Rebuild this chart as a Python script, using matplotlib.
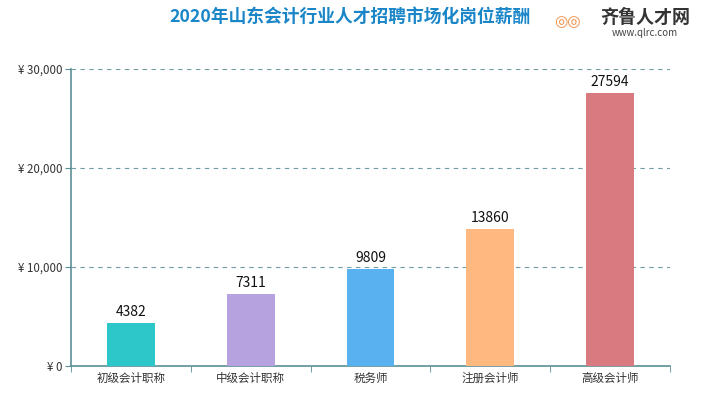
import matplotlib
matplotlib.use("Agg")
import matplotlib.pyplot as plt
from matplotlib.ticker import FuncFormatter

plt.rcParams['font.family'] = ['Noto Sans CJK SC', 'DejaVu Sans']

categories = ['初级会计职称', '中级会计职称', '税务师', '注册会计师', '高级会计师']
values = [4382, 7311, 9809, 13860, 27594]
colors = ['#2ec7c9', '#b6a2de', '#5ab1ef', '#ffb980', '#d87a80']
yticks = [0, 10000, 20000, 30000]
title = '2020年山东会计行业人才招聘市场化岗位薪酬'

fig = plt.figure(figsize=(7.2, 4.05), dpi=100)
ax = fig.add_axes([71/720, 1-366/405, (670-71)/720, (366-69)/405])

x = list(range(len(categories)))
ax.bar(x, values, width=0.4, color=colors, zorder=3)
for xi, v in zip(x, values):
    ax.text(xi, v + 350, str(v), ha='center', va='bottom', fontsize=10, color='#111111', zorder=4)

ax.set_xlim(-0.5, len(categories) - 0.5)
ax.set_ylim(0, 30000)
ax.set_yticks(yticks)
ax.yaxis.set_major_formatter(FuncFormatter(lambda v, p: '¥ ' + ('0' if v == 0 else f'{int(v):,}')))
ax.set_xticks(x)
ax.set_xticklabels(categories)
ax.set_xticks([i - 0.5 for i in range(len(categories) + 1)], minor=True)
ax.tick_params(axis='x', which='major', length=0, labelsize=8.3, colors='#333333', pad=4)
ax.tick_params(axis='x', which='minor', length=4, color='#5b8f95')
ax.tick_params(axis='y', labelsize=8.3, colors='#333333', length=4, color='#5b8f95', pad=2)

ax.grid(axis='y', linestyle=(0, (4, 4)), color='#6e9ea3', linewidth=0.8, zorder=0)
for s in ['top', 'right']:
    ax.spines[s].set_visible(False)
for s in ['left', 'bottom']:
    ax.spines[s].set_color('#5b8f95')
    ax.spines[s].set_linewidth(1.2)

fig.text(350/720, 1-17/405, title, ha='center', va='center', fontsize=12.8, fontweight='bold', color='#1a86c8')
fig.text(645/720, 1-17/405, '齐鲁人才网', ha='center', va='center', fontsize=13, fontweight='bold', color='#333333')
fig.text(645/720, 1-33/405, 'www.qlrc.com', ha='center', va='center', fontsize=7, color='#444444')
fig.text(567/720, 1-22/405, '◎◎', ha='center', va='center', fontsize=11, color='#f08a3c', family=['DejaVu Sans'])

fig.savefig('out.png', dpi=100)
